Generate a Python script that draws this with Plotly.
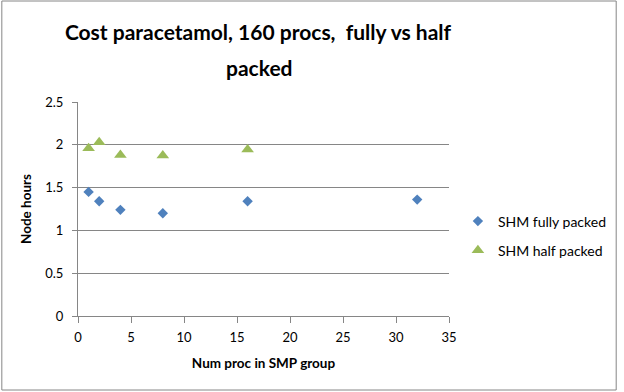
import plotly.graph_objects as go

x_full = [1, 2, 4, 8, 16, 32]
y_full = [1.45, 1.34, 1.24, 1.20, 1.34, 1.36]
x_half = [1, 2, 4, 8, 16]
y_half = [1.96, 2.03, 1.88, 1.875, 1.945]

title_lines = ["Cost paracetamol, 160 procs,  fully vs half", "packed"]
FONT = "Lato"

L, R, T, B = 78, 171, 102, 76
W, H = 624, 392
pw, ph = W - L - R, H - T - B
TITLE_CX = 261 / W

fig = go.Figure()
fig.add_trace(go.Scatter(x=x_full, y=y_full, mode="markers", name="SHM fully packed",
                         legendgroup="a",
                         marker=dict(symbol="diamond", size=8, color="#4F81BD")))
fig.add_trace(go.Scatter(x=x_half, y=y_half, mode="markers", name="SHM half packed",
                         legendgroup="b",
                         marker=dict(symbol="triangle-up", size=11, color="#9BBB59")))

fig.update_layout(
    width=W, height=H,
    margin=dict(l=L, r=R, t=T, b=B),
    paper_bgcolor="white", plot_bgcolor="white",
    font=dict(family=FONT, color="black", size=13),
    title=dict(text="<b>" + title_lines[0] + "</b>", x=(TITLE_CX * W - 3) / W, xanchor="center",
               xref="container", yref="container", y=1 - 33 / H, yanchor="middle",
               font=dict(size=21, family=FONT)),
    annotations=[dict(text="<b>" + title_lines[1] + "</b>", xref="paper", yref="paper",
                      x=(TITLE_CX * W - L) / pw, y=(T + ph - 67) / ph,
                      xanchor="center", yanchor="middle", showarrow=False,
                      font=dict(size=21, family=FONT))],
    showlegend=True,
    legend=dict(x=(462 - L) / pw, y=(316 - 236) / ph, xanchor="left", yanchor="middle",
                font=dict(size=14, family=FONT), tracegroupgap=8, itemwidth=30),
    xaxis=dict(range=[0, 35], dtick=5, showgrid=False, showline=True, linecolor="#868686",
               ticks="outside", ticklen=6, tickcolor="#868686", zeroline=False,
               tickfont=dict(size=13), ticklabelstandoff=3,
               title=dict(text="<b>Num proc in SMP group</b>", font=dict(size=13.5), standoff=14)),
    yaxis=dict(range=[0, 2.5], dtick=0.5, showgrid=True, gridcolor="#868686", showline=True,
               linecolor="#868686", ticks="outside", ticklen=5, tickcolor="#868686",
               zeroline=False, tickfont=dict(size=13), ticklabelstandoff=6,
               title=dict(text="<b>Node hours</b>", font=dict(size=13.5), standoff=10)),
    shapes=[dict(type="rect", xref="paper", yref="paper",
                 x0=(1 - L) / pw, x1=(W - 2 - L) / pw,
                 y0=-(H - 2 - (T + ph)) / ph, y1=(T + ph - 1) / ph,
                 line=dict(color="#868686", width=1), fillcolor="rgba(0,0,0,0)", layer="below")],
)

fig.write_html("out.html", config={"displayModeBar": False},
               post_script=("document.documentElement.style.overflow='hidden';"
                            "document.body.style.overflow='hidden';"
                            "document.body.style.margin='0';"))
